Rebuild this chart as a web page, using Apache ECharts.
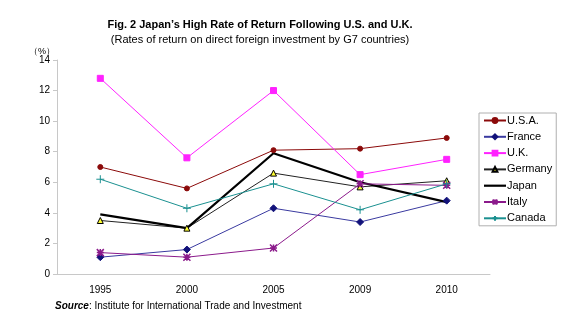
<!DOCTYPE html>
<html><head><meta charset="utf-8">
<script src="https://cdn.jsdelivr.net/npm/echarts@6/dist/echarts.min.js"></script>
<style>html,body{margin:0;padding:0;background:#fff}#c{width:587px;height:323px}</style>
</head><body><div id="c"></div>
<script>
const years = ['1995','2000','2005','2009','2010'];
const usa = [7.0, 5.6, 8.1, 8.2, 8.9];
const france = [1.1, 1.6, 4.3, 3.4, 4.8];
const uk = [12.8, 7.6, 12.0, 6.5, 7.5];
const germany = [3.5, 3.0, 6.6, 5.7, 6.1];
const japan = [3.9, 3.0, 7.9, 6.0, 4.7];
const italy = [1.4, 1.1, 1.7, 5.9, 5.8];
const canada = [6.2, 4.3, 5.9, 4.2, 5.9];
const yTicks = [0, 2, 4, 6, 8, 10, 12, 14];

const F = 'Liberation Sans, Arial, sans-serif';
const chart = echarts.init(document.getElementById('c'));
function s(name, data, color, symbol, size, extra) {
  return Object.assign({
    name, type: 'line', data, symbol, symbolSize: size,
    lineStyle: { color, width: 1 },
    itemStyle: { color, borderColor: color, borderWidth: 1 },
    emphasis: { disabled: true }, animation: false
  }, extra || {});
}
chart.setOption({
  animation: false,
  textStyle: { fontFamily: F },
  title: [
    { text: 'Fig. 2 Japan\u2019s High Rate of Return Following U.S. and U.K.', left: 255, top: 14, textAlign: 'center',
      textStyle: { fontSize: 11, fontWeight: 'bold', color: '#000', fontFamily: F } },
    { text: '(Rates of return on direct foreign investment by G7 countries)', left: 255, top: 29, textAlign: 'center',
      textStyle: { fontSize: 11, fontWeight: 'normal', color: '#000', fontFamily: F } },
    { text: '（%）', left: 24, top: 42, textStyle: { fontSize: 9, fontWeight: 'normal', color: '#000', fontFamily: F } },
    { text: '{b|Source}: Institute for International Trade and Investment', left: 50, top: 296,
      textStyle: { fontSize: 10, fontWeight: 'normal', color: '#000', fontFamily: F,
        rich: { b: { fontWeight: 'bold', fontStyle: 'italic', fontSize: 10, fontFamily: F } } } }
  ],
  legend: {
    orient: 'vertical', left: 479, top: 113, width: 72,
    itemWidth: 22, itemHeight: 6, itemGap: 5.3,
    padding: [2, 4, 2, 4],
    borderColor: '#b0b0b0', borderWidth: 1,
    textStyle: { fontSize: 11, color: '#000', fontFamily: F, padding: [0, 0, 0, -4] },
    data: ['U.S.A.', 'France', 'U.K.', 'Germany',
      { name: 'Japan', icon: 'path://M0,0L22,0L22,2.2L0,2.2Z', itemStyle: { color: '#000', borderWidth: 0 } },
      'Italy', 'Canada']
  },
  grid: { left: 57, right: 97, top: 60, bottom: 49 },
  xAxis: {
    type: 'category', data: years, boundaryGap: true,
    axisLine: { lineStyle: { color: '#c8c8c8' } },
    axisTick: { lineStyle: { color: '#c8c8c8' }, length: 4 },
    axisLabel: { fontSize: 10, color: '#000', margin: 11 }
  },
  yAxis: {
    type: 'value', min: 0, max: 14, interval: 2,
    axisLine: { show: true, lineStyle: { color: '#c8c8c8' } },
    axisTick: { show: true, lineStyle: { color: '#c8c8c8' }, length: 4 },
    splitLine: { show: false },
    axisLabel: { fontSize: 10, color: '#000', margin: 7,
      formatter: v => yTicks.includes(v) ? String(v) : '' }
  },
  series: [
    s('U.S.A.', usa, '#8b0a0a', 'circle', 5),
    s('France', france, '#12127a', 'diamond', 7, { lineStyle: { color: '#3a3aa0', width: 1 } }),
    s('U.K.', uk, '#ff22ff', 'rect', 6),
    s('Germany', germany, '#222', 'triangle', 6, { itemStyle: { color: '#ffff33', borderColor: '#000', borderWidth: 1 } }),
    s('Japan', japan, '#000', 'none', 0, { lineStyle: { color: '#000', width: 2.2 }, showSymbol: false }),
    s('Italy', italy, '#8b1a8b', 'path://M0,0L10,10M10,0L0,10M5,0L5,10M0,5L10,5', 7,
      { itemStyle: { color: 'none', borderColor: '#8b1a8b', borderWidth: 1.5 } }),
    s('Canada', canada, '#1a9090', 'path://M5,0L5,10M0,5L10,5', 8,
      { itemStyle: { color: 'none', borderColor: '#1a9090', borderWidth: 1 } })
  ]
});
</script></body></html>
